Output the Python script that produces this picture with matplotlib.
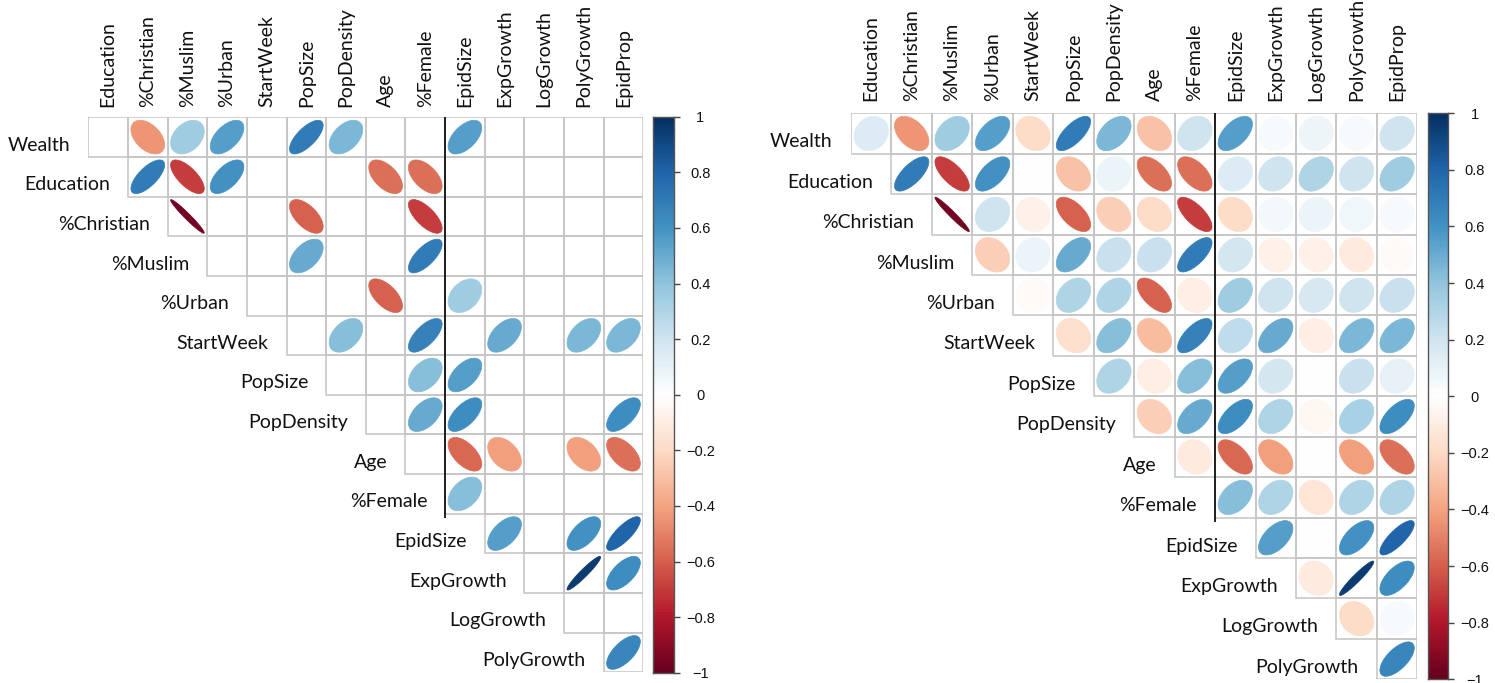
import numpy as np
import matplotlib
matplotlib.use("Agg")
import matplotlib.pyplot as plt
from matplotlib.colors import LinearSegmentedColormap, Normalize
from matplotlib.patches import Polygon

# ---------------- data ----------------
row_vars = ["Wealth", "Education", "%Christian", "%Muslim", "%Urban", "StartWeek",
            "PopSize", "PopDensity", "Age", "%Female", "EpidSize", "ExpGrowth",
            "LogGrowth", "PolyGrowth"]
col_vars = ["Education", "%Christian", "%Muslim", "%Urban", "StartWeek", "PopSize",
            "PopDensity", "Age", "%Female", "EpidSize", "ExpGrowth", "LogGrowth",
            "PolyGrowth", "EpidProp"]

# correlations, row i starts at column i (upper triangle)
r_wealth = [0.15, -0.45, 0.35, 0.55, -0.2, 0.7, 0.45, -0.3, 0.2, 0.55, 0.03, 0.07, 0.03, 0.2]
r_education = [0.7, -0.7, 0.6, -0.01, -0.3, 0.08, -0.55, -0.55, 0.15, 0.2, 0.3, 0.2, 0.35]
r_christian = [-0.97, 0.2, -0.08, -0.6, -0.25, -0.2, -0.7, -0.2, 0.05, 0.08, 0.06, 0.03]
r_muslim = [-0.25, 0.08, 0.5, 0.22, 0.22, 0.7, 0.18, -0.08, -0.08, -0.12, -0.03]
r_urban = [-0.03, 0.3, 0.3, -0.6, -0.1, 0.35, 0.2, 0.17, 0.2, 0.22]
r_startweek = [-0.18, 0.42, -0.32, 0.67, 0.25, 0.5, -0.1, 0.45, 0.45]
r_popsize = [0.3, -0.1, 0.42, 0.55, 0.18, 0.0, 0.22, 0.1]
r_popdensity = [-0.25, 0.5, 0.62, 0.3, -0.05, 0.32, 0.62]
r_age = [-0.12, -0.58, -0.42, 0.0, -0.42, -0.55]
r_female = [0.42, 0.3, -0.15, 0.3, 0.3]
r_epidsize = [0.55, 0.0, 0.6, 0.8]
r_expgrowth = [-0.12, 0.95, 0.62]
r_loggrowth = [-0.2, 0.03]
r_polygrowth = [0.65]

# significance masks (1 = shown in left panel)
s_wealth = [0, 1, 1, 1, 0, 1, 1, 0, 0, 1, 0, 0, 0, 0]
s_education = [1, 1, 1, 0, 0, 0, 1, 1, 0, 0, 0, 0, 0]
s_christian = [1, 0, 0, 1, 0, 0, 1, 0, 0, 0, 0, 0]
s_muslim = [0, 0, 1, 0, 0, 1, 0, 0, 0, 0, 0]
s_urban = [0, 0, 0, 1, 0, 1, 0, 0, 0, 0]
s_startweek = [0, 1, 0, 1, 0, 1, 0, 1, 1]
s_popsize = [0, 0, 1, 1, 0, 0, 0, 0]
s_popdensity = [0, 1, 1, 0, 0, 0, 1]
s_age = [0, 1, 1, 0, 1, 1]
s_female = [1, 0, 0, 0, 0]
s_epidsize = [1, 0, 1, 1]
s_expgrowth = [0, 1, 1]
s_loggrowth = [0, 0]
s_polygrowth = [1]

corr_rows = [r_wealth, r_education, r_christian, r_muslim, r_urban, r_startweek,
             r_popsize, r_popdensity, r_age, r_female, r_epidsize, r_expgrowth,
             r_loggrowth, r_polygrowth]
sig_rows = [s_wealth, s_education, s_christian, s_muslim, s_urban, s_startweek,
            s_popsize, s_popdensity, s_age, s_female, s_epidsize, s_expgrowth,
            s_loggrowth, s_polygrowth]

cbar_ticks = [-1, -0.8, -0.6, -0.4, -0.2, 0, 0.2, 0.4, 0.6, 0.8, 1]
cbar_labels = ["\u22121", "\u22120.8", "\u22120.6", "\u22120.4", "\u22120.2", "0",
               "0.2", "0.4", "0.6", "0.8", "1"]

# ---------------- style ----------------
cmap = LinearSegmentedColormap.from_list(
    "corrRdBu", ["#67001F", "#B2182B", "#D6604D", "#F4A582", "#FDDBC7", "#FFFFFF",
                 "#D1E5F0", "#92C5DE", "#4393C3", "#2166AC", "#053061"], N=200)
norm = Normalize(-1, 1)
LABEL_FONT = ["Lato", "DejaVu Sans"]
CBAR_FONT = ["Liberation Sans", "DejaVu Sans"]

W, H = 1495, 683
fig = plt.figure(figsize=(W / 100, H / 100), dpi=100)


def px_axes(x0, y0, x1, y1):
    return fig.add_axes([x0 / W, 1 - y1 / H, (x1 - x0) / W, (y1 - y0) / H])


def draw_panel(grid_box, cbar_box, show_all, col_gap):
    ax = px_axes(*grid_box)
    n = len(col_vars)
    ax.set_xlim(-0.5, n - 0.5)
    ax.set_ylim(n - 0.5, -0.5)
    ax.axis("off")
    k = np.linspace(0, 2 * np.pi, 99)
    for i, (vals, sig) in enumerate(zip(corr_rows, sig_rows)):
        for m, (r, s) in enumerate(zip(vals, sig)):
            j = i + m
            # cell border
            ax.add_patch(plt.Rectangle((j - 0.5, i - 0.5), 1, 1, fill=False,
                                       edgecolor="#C4C4C4", lw=1.1, zorder=1))
            if not show_all and not s:
                continue
            d = np.arccos(np.clip(r, -1, 1))
            ex = j + 0.85 * np.cos(k + d / 2) / 2
            ey = i - 0.85 * np.cos(k - d / 2) / 2
            c = cmap(norm(r))
            ax.add_patch(Polygon(np.column_stack([ex, ey]), closed=True,
                                 facecolor=c, edgecolor=c, lw=0.5, zorder=2))
        # row label
        ax.text(i - 0.5 - 0.45, i + 0.34, row_vars[i], ha="right", va="baseline",
                fontsize=14, family=LABEL_FONT, color="#111111", clip_on=False)
    for j, name in enumerate(col_vars):
        ax.text(j, -0.5 - col_gap, name, rotation=90, ha="center", va="bottom",
                fontsize=14, family=LABEL_FONT, color="#111111", clip_on=False)
    # separator line
    ax.plot([8.5, 8.5], [-0.5, 9.62], color="#111111", lw=1.3, zorder=3,
            clip_on=False, solid_capstyle="butt")

    cax = px_axes(*cbar_box)
    grad = np.linspace(-1, 1, 400).reshape(-1, 1)
    cax.imshow(grad, cmap=cmap, norm=norm, aspect="auto", origin="lower",
               extent=[0, 1, -1, 1])
    cax.set_xlim(0, 1)
    cax.set_ylim(-1, 1)
    cax.set_xticks([])
    cax.yaxis.tick_right()
    cax.set_yticks(cbar_ticks)
    cax.set_yticklabels(cbar_labels, family=CBAR_FONT, fontsize=10.5)
    for lab in cax.get_yticklabels():
        lab.set_horizontalalignment("center")
    cax.tick_params(axis="y", length=4, width=1, color="#444444", pad=15,
                    labelcolor="#111111")
    for sp in cax.spines.values():
        sp.set_color("#555555")
        sp.set_linewidth(1)


draw_panel((88.3, 117.3, 643.3, 672.3), (653, 116.7, 674, 672.7), False, 0.26)
draw_panel((851, 113.3, 1417.3, 679.3), (1427.7, 113.3, 1448.3, 679.3), True, 0.3)

fig.savefig("out.png", dpi=100, facecolor="white")
